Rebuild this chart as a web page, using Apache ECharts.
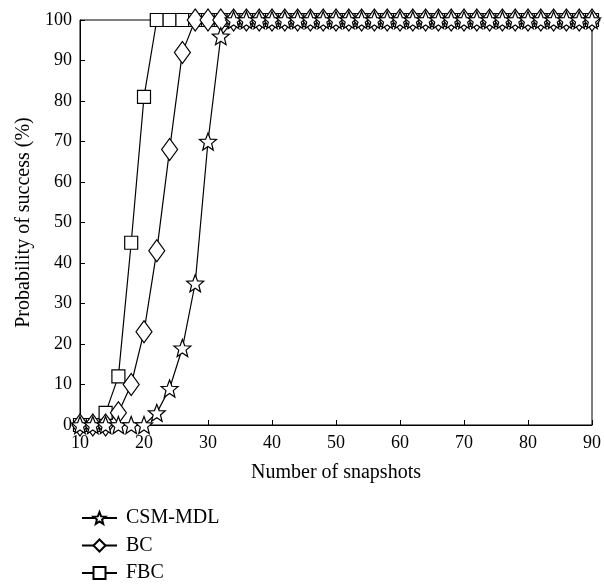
<!DOCTYPE html>
<html>
<head>
<meta charset="utf-8">
<script src="https://cdn.jsdelivr.net/npm/echarts@6.0.0/dist/echarts.min.js"></script>
<style>
  html, body { margin: 0; padding: 0; background: #fff; }
  #chart { width: 604px; height: 584px; }
</style>
</head>
<body>
<div id="chart"></div>
<script>
// snapshots 10..90 step 2
const snapshots = [10,12,14,16,18,20,22,24,26,28,30,32,34,36,38,40,42,44,46,48,50,
                   52,54,56,58,60,62,64,66,68,70,72,74,76,78,80,82,84,86,88,90];

// probability of success (%); after the listed points all reach 100
const fbcHead = [0, 0, 3, 12, 45, 81, 100];
const bcHead  = [0, 0, 0, 3, 10, 23, 43, 68, 92, 100];
const csmHead = [0, 0, 0, 0, 0, 0, 3, 9, 19, 35, 70, 96, 100];

function fill(head) {
  const out = head.slice();
  while (out.length < snapshots.length) out.push(100);
  return out;
}
const fbc = fill(fbcHead);
const bc  = fill(bcHead);
const csm = fill(csmHead);

const star = 'path://M0,-10 L2.6,-3.4 L9.5,-3.1 L4.1,1.3 L5.9,8.1 L0,4.3 L-5.9,8.1 L-4.1,1.3 L-9.5,-3.1 L-2.6,-3.4 Z';
const font = '"Liberation Serif", "DejaVu Serif", serif';

function pairs(vals) { return snapshots.map((x, i) => [x, vals[i]]); }

function mk(name, data, symbol, size) {
  return {
    name: name,
    type: 'line',
    data: pairs(data),
    symbol: symbol,
    symbolSize: size,
    showAllSymbol: true,
    animation: false,
    lineStyle: { color: '#000', width: 1.2 },
    itemStyle: { color: '#fff', borderColor: '#000', borderWidth: 1.2 }
  };
}

const chart = echarts.init(document.getElementById('chart'));
chart.setOption({
  animation: false,
  backgroundColor: '#fff',
  textStyle: { fontFamily: font, color: '#000' },
  grid: { left: 80, right: 12, top: 20, bottom: 159, show: true, borderColor: '#000', borderWidth: 1 },
  legend: {
    orient: 'vertical',
    left: 81,
    bottom: 1,
    padding: 0,
    itemWidth: 35,
    itemHeight: 15,
    itemGap: 7.5,
    data: ['CSM-MDL', 'BC', 'FBC'],
    textStyle: { fontFamily: font, fontSize: 20, lineHeight: 16, color: '#000', padding: [0, 0, 0, 4] }
  },
  xAxis: {
    type: 'value',
    min: 10, max: 90, interval: 10,
    name: 'Number of snapshots',
    nameLocation: 'middle',
    nameGap: 38,
    nameTextStyle: { fontFamily: font, fontSize: 20, color: '#000' },
    axisLine: { show: true, lineStyle: { color: '#000', width: 1 } },
    axisTick: { show: true, inside: true, length: 5, lineStyle: { color: '#000' } },
    axisLabel: { fontFamily: font, fontSize: 18, color: '#000', margin: 9 },
    splitLine: { show: false }
  },
  yAxis: {
    type: 'value',
    min: 0, max: 100, interval: 10,
    name: 'Probability of success (%)',
    nameLocation: 'middle',
    nameGap: 40,
    nameTextStyle: { fontFamily: font, fontSize: 20, color: '#000' },
    axisLine: { show: true, lineStyle: { color: '#000', width: 1 } },
    axisTick: { show: true, inside: true, length: 5, lineStyle: { color: '#000' } },
    axisLabel: { fontFamily: font, fontSize: 18, color: '#000', margin: 8 },
    splitLine: { show: false }
  },
  series: [
    mk('FBC', fbc, 'rect', 13),
    mk('BC', bc, 'diamond', [16, 22]),
    mk('CSM-MDL', csm, star, 17)
  ]
});
</script>
</body>
</html>
